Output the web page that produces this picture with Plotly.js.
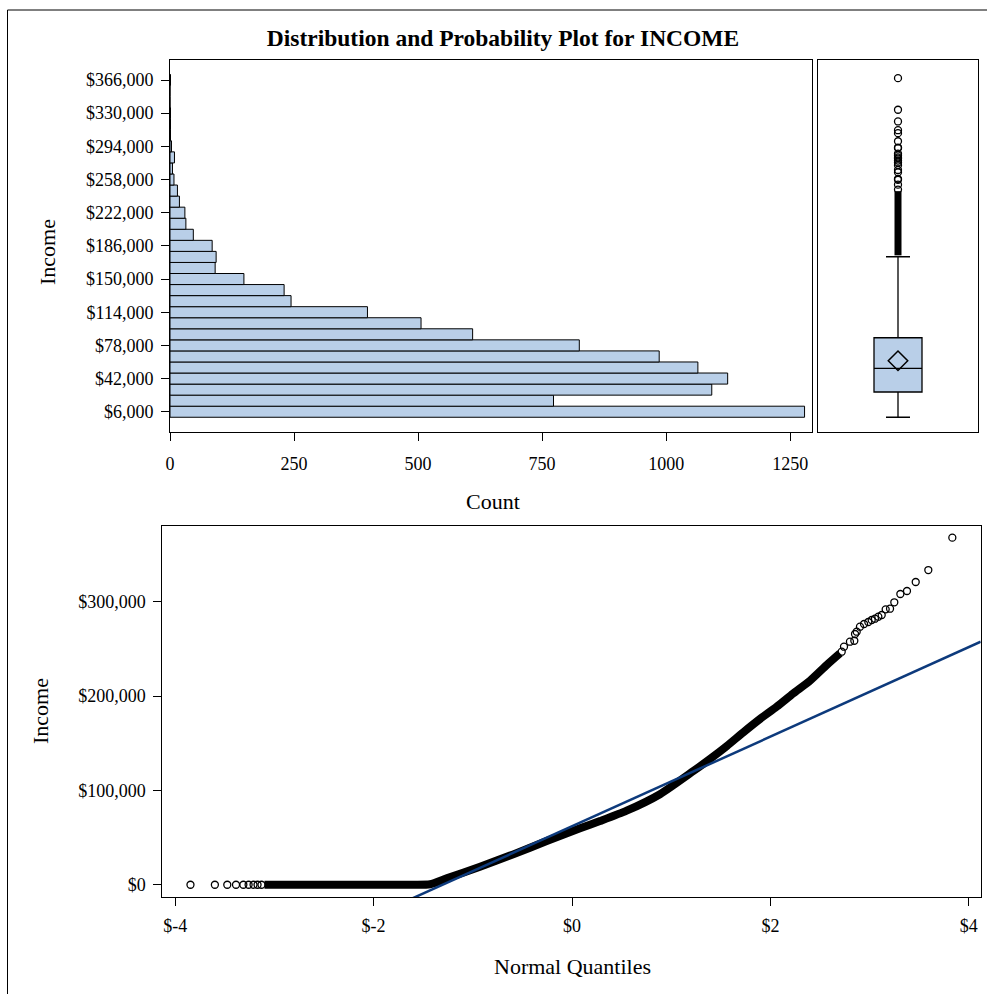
<!DOCTYPE html>
<html>
<head>
<meta charset="utf-8">
<script src="https://cdn.plot.ly/plotly-3.0.1.min.js"></script>
<style>
  html, body { margin: 0; padding: 0; background: #ffffff; }
  #chart { width: 987px; height: 994px; }
</style>
</head>
<body>
<div id="chart"></div>
<script>
// ---------------- DATA ----------------
// Histogram: income bin midpoints (bin width 12,000) and counts
const binMidpoints = [6000, 18000, 30000, 42000, 54000, 66000, 78000, 90000, 102000, 114000,
  126000, 138000, 150000, 162000, 174000, 186000, 198000, 210000, 222000, 234000,
  246000, 258000, 270000, 282000, 294000, 306000, 318000, 330000, 342000, 354000, 366000];
const binCounts = [1279, 773, 1092, 1124, 1064, 986, 825, 610, 506, 398,
  244, 230, 149, 91, 93, 85, 47, 32, 30, 19,
  15, 8, 5, 9, 3, 1, 1, 1, 0, 0, 1];
const binWidth = 12000;

const incomeTickVals = [6000, 42000, 78000, 114000, 150000, 186000, 222000, 258000, 294000, 330000, 366000];
const incomeTickText = ["$6,000", "$42,000", "$78,000", "$114,000", "$150,000", "$186,000",
  "$222,000", "$258,000", "$294,000", "$330,000", "$366,000"];
const countTickVals = [0, 250, 500, 750, 1000, 1250];

// Box plot summary
const boxQ1 = 27400;
const boxMedian = 53100;
const boxQ3 = 86300;
const boxLowerWhisker = 0;
const boxUpperWhisker = 174200;
const boxMean = 61350;

// Normal probability plot: lower tail (open circles, all $0)
const lowTailQ = [-3.846, -3.60, -3.475, -3.387, -3.313, -3.26, -3.21, -3.17, -3.13];
const lowTailIncome = [0, 0, 0, 0, 0, 0, 0, 0, 0];
// dense band of points (drawn as a thick run)
const bandQ = [-3.10, -2.5, -2.0, -1.6, -1.43, -1.263, -0.927, -0.592, -0.255, 0.081, 0.282,
  0.551, 0.887, 1.223, 1.391, 1.56, 1.727, 1.895, 2.064, 2.231, 2.399, 2.568, 2.702];
const bandIncome = [0, 0, 0, 0, 500, 6800, 19100, 32200, 46300, 59800, 67500,
  78500, 96000, 120500, 133300, 147000, 161600, 175700, 188800, 203000, 216300, 233000, 245400];
// upper tail (open circles)
const highTailQ = [2.719, 2.742, 2.802, 2.846, 2.853, 2.87, 2.903, 2.944, 2.987, 3.021, 3.054,
  3.088, 3.122, 3.162, 3.206, 3.249, 3.31, 3.377, 3.465, 3.592, 3.834];
const highTailIncome = [247100, 252400, 257700, 258700, 265900, 268300, 273600, 276500, 278600,
  280700, 282100, 284200, 286000, 292000, 292700, 299500, 308300, 311500, 321000, 333700, 368000];

// Normal reference line parameters
const normalMu = 62000;
const normalSigma = 47500;

const qqIncomeTickVals = [0, 100000, 200000, 300000];
const qqIncomeTickText = ["$0", "$100,000", "$200,000", "$300,000"];
const quantTickVals = [-4, -2, 0, 2, 4];
const quantTickText = ["$-4", "$-2", "$0", "$2", "$4"];

// ---------------- DRAWING ----------------
const W = 987, H = 994;
const px = v => v / W;
const py = v => 1 - v / H;

const FONT = "Liberation Serif, Times New Roman, serif";
const fillBlue = "#B9CFE8";
const lineBlue = "#0D3A7C";

const traces = [];

// Histogram
traces.push({
  type: "bar", orientation: "h",
  y: binMidpoints, x: binCounts, width: binWidth,
  marker: { color: fillBlue, line: { color: "#000000", width: 1 } },
  xaxis: "x", yaxis: "y", hoverinfo: "x+y", showlegend: false
});

// Box plot (precomputed)
traces.push({
  type: "box", x: [0],
  q1: [boxQ1], median: [boxMedian], q3: [boxQ3],
  lowerfence: [boxLowerWhisker], upperfence: [boxUpperWhisker],
  width: 0.6, whiskerwidth: 0.5,
  fillcolor: fillBlue, line: { color: "#000000", width: 1.3 },
  boxpoints: false,
  xaxis: "x2", yaxis: "y2", showlegend: false
});
// outliers above the upper whisker, drawn from the probability-plot values
const denseOut = bandIncome.filter(v => v > boxUpperWhisker);
traces.push({
  type: "scatter", mode: "lines",
  x: denseOut.map(() => 0), y: denseOut,
  line: { color: "#000000", width: 7 },
  xaxis: "x2", yaxis: "y2", showlegend: false, hoverinfo: "y"
});
traces.push({
  type: "scatter", mode: "markers",
  x: highTailIncome.map(() => 0), y: highTailIncome,
  marker: { symbol: "circle-open", size: 7, color: "#000000", line: { width: 1.3 } },
  xaxis: "x2", yaxis: "y2", showlegend: false, hoverinfo: "y"
});
// mean diamond
traces.push({
  type: "scatter", mode: "markers",
  x: [0], y: [boxMean],
  marker: { symbol: "diamond-open", size: 15, color: "#000000", line: { width: 1.5 } },
  xaxis: "x2", yaxis: "y2", showlegend: false, hoverinfo: "y"
});

// Probability plot
traces.push({
  type: "scatter", mode: "lines",
  x: bandQ, y: bandIncome,
  line: { color: "#000000", width: 8, shape: "spline", smoothing: 0.6 },
  xaxis: "x3", yaxis: "y3", showlegend: false, hoverinfo: "x+y"
});
traces.push({
  type: "scatter", mode: "markers",
  x: lowTailQ.concat(highTailQ), y: lowTailIncome.concat(highTailIncome),
  marker: { symbol: "circle-open", size: 7, color: "#000000", line: { width: 1.3 } },
  xaxis: "x3", yaxis: "y3", showlegend: false, hoverinfo: "x+y"
});
const qqXRange = [-4.13, 4.12];
const lineQ = [-4.13, 4.12];
traces.push({
  type: "scatter", mode: "lines",
  x: lineQ, y: lineQ.map(q => normalMu + normalSigma * q),
  line: { color: lineBlue, width: 2.5 },
  xaxis: "x3", yaxis: "y3", showlegend: false, hoverinfo: "skip", cliponaxis: true
});

const axisCommon = {
  showline: true, linecolor: "#000000", linewidth: 1, mirror: true,
  showgrid: false, zeroline: false, ticks: "outside", ticklen: 8, tickwidth: 1,
  tickcolor: "#000000", tickfont: { family: FONT, size: 18, color: "#000000" }
};

const layout = {
  width: W, height: H,
  margin: { l: 0, r: 0, t: 0, b: 0 },
  paper_bgcolor: "#ffffff", plot_bgcolor: "#ffffff",
  showlegend: false, bargap: 0,
  title: {
    text: "<b>Distribution and Probability Plot for INCOME</b>",
    font: { family: FONT, size: 23.5, color: "#000000" },
    x: px(503), y: py(38), xanchor: "center", yanchor: "middle"
  },
  xaxis: Object.assign({}, axisCommon, {
    domain: [px(170), px(812)], range: [0, 1294], anchor: "y",
    tickvals: countTickVals, ticklabelstandoff: 7
  }),
  yaxis: Object.assign({}, axisCommon, {
    domain: [py(432), py(60)], range: [-16000, 387700], anchor: "x",
    tickvals: incomeTickVals, ticktext: incomeTickText, ticklabelstandoff: 4
  }),
  xaxis2: Object.assign({}, axisCommon, {
    domain: [px(818), px(978)], range: [-1, 1], anchor: "y2",
    ticks: "", showticklabels: false
  }),
  yaxis2: Object.assign({}, axisCommon, {
    domain: [py(432), py(60)], range: [-16000, 387700], anchor: "x2",
    ticks: "", showticklabels: false
  }),
  xaxis3: Object.assign({}, axisCommon, {
    domain: [px(162.3), px(980.7)], range: qqXRange, anchor: "y3",
    tickvals: quantTickVals, ticktext: quantTickText, ticklabelstandoff: 4
  }),
  yaxis3: Object.assign({}, axisCommon, {
    domain: [py(897), py(526)], range: [-13000, 380400], anchor: "x3",
    tickvals: qqIncomeTickVals, ticktext: qqIncomeTickText, ticklabelstandoff: 4
  }),
  annotations: [
    { text: "Income", xref: "paper", yref: "paper", x: px(47), y: py(252), textangle: -90,
      showarrow: false, xanchor: "center", yanchor: "middle",
      font: { family: FONT, size: 22, color: "#000000" } },
    { text: "Count", xref: "paper", yref: "paper", x: px(493), y: py(501),
      showarrow: false, xanchor: "center", yanchor: "middle",
      font: { family: FONT, size: 22, color: "#000000" } },
    { text: "Income", xref: "paper", yref: "paper", x: px(40), y: py(711), textangle: -90,
      showarrow: false, xanchor: "center", yanchor: "middle",
      font: { family: FONT, size: 22, color: "#000000" } },
    { text: "Normal Quantiles", xref: "paper", yref: "paper", x: px(572), y: py(966),
      showarrow: false, xanchor: "center", yanchor: "middle",
      font: { family: FONT, size: 22, color: "#000000" } }
  ],
  shapes: [
    { type: "line", xref: "paper", yref: "paper", x0: px(7.5), x1: px(7.5), y0: py(10), y1: py(994),
      line: { color: "#000000", width: 1 } },
    { type: "line", xref: "paper", yref: "paper", x0: px(7.5), x1: 1, y0: py(10), y1: py(10),
      line: { color: "#000000", width: 1 } }
  ]
};

Plotly.newPlot("chart", traces, layout, { staticPlot: true, displayModeBar: false });
</script>
</body>
</html>
